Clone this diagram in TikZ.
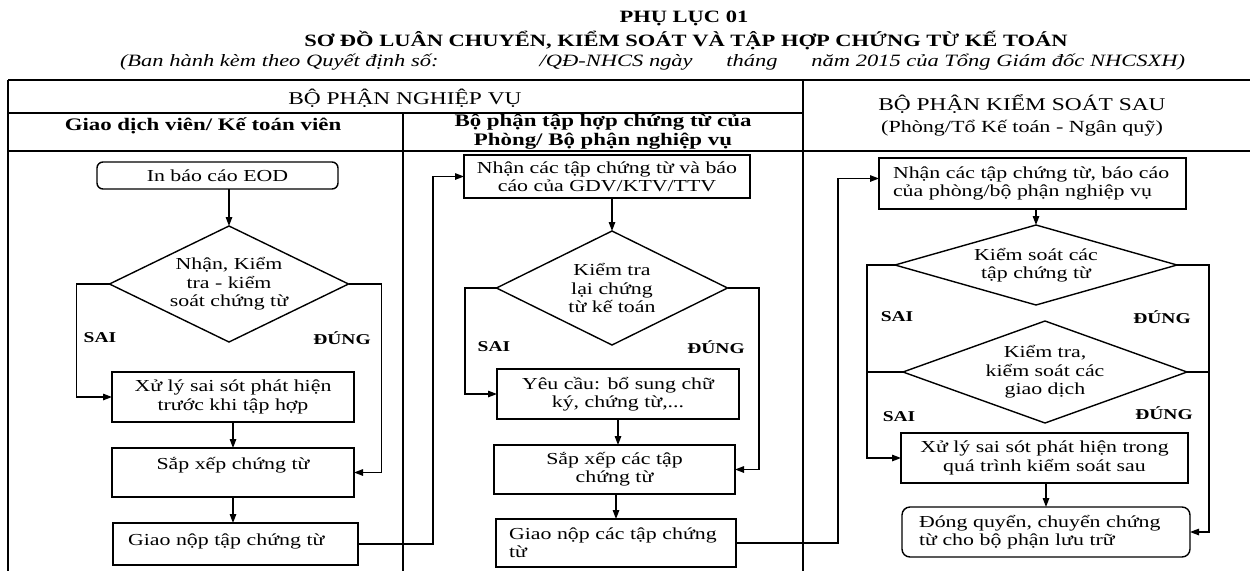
\documentclass[tikz,border=0pt]{standalone}
\usepackage{fontspec}
\setmainfont{Liberation Serif}[FakeStretch=1.3]
\usetikzlibrary{shapes.geometric,arrows.meta,calc}
\newcommand\fbody{\fontsize{16.8pt}{18.3pt}\selectfont}
\newcommand\flab{\fontsize{15pt}{18pt}\selectfont\bfseries}
\newcommand\ftitle{\fontsize{17.3pt}{20pt}\selectfont\bfseries}
\newcommand\fital{\fontsize{17.3pt}{20pt}\selectfont\itshape}
\newcommand\fhead{\fontsize{18pt}{22pt}\selectfont}
\newcommand\fcol{\fontsize{17.6pt}{18.5pt}\selectfont\bfseries}
\begin{document}
\begin{tikzpicture}[x=1pt,y=-1pt,
  every node/.style={inner sep=0pt, outer sep=0pt},
  tline/.style={line width=1.3pt},
  box/.style={draw, line width=1.4pt, align=center, font=\fbody},
  lbox/.style={draw, line width=1.4pt, align=left, font=\fbody},
  dia/.style={draw, diamond, line width=1.4pt, align=center, font=\fbody, inner sep=0pt},
  lab/.style={font=\flab},
  conn/.style={line width=1.3pt},
  arr/.style={line width=1.3pt, -{Triangle[length=9pt,width=6.5pt]}}]
\useasboundingbox (0,0) rectangle (1250,571);
% title
\node[font=\ftitle] (t1) at (684,18) {PHỤ LỤC 01};
\node[font=\ftitle] (t2) at (686,40) {SƠ ĐỒ LUÂN CHUYỂN, KIỂM SOÁT VÀ TẬP HỢP CHỨNG TỪ KẾ TOÁN};
\node[font=\fital, anchor=west] (t3) at (120,62) {\makebox[1065pt][s]{(Ban hành kèm theo Quyết định số:\hspace{0pt plus 3fill}/QĐ-NHCS ngày\hspace{0pt plus 1fill}tháng\hspace{0pt plus 1fill}năm 2015 của Tổng Giám đốc NHCSXH)}};
% table frame
\draw[tline] (8,80) -- (1250,80);
\draw[tline] (8,80) -- (8,571);
\draw[tline] (8,113) -- (803,113);
\draw[tline] (8,151) -- (1250,151);
\draw[tline] (403,113) -- (403,571);
\draw[tline] (803,80) -- (803,571);
% headers
\node[font=\fhead] (h1) at (405,98) {BỘ PHẬN NGHIỆP VỤ};
\node[font=\fcol] (h2) at (203,126) {Giao dịch viên/ Kế toán viên};
\node[font=\fcol, align=center] (h3) at (603,132.5) {Bộ phận tập hợp chứng từ của\\\underline{Phòng/ Bộ phận nghiệp vụ}};
\node[font=\fhead, align=center] (h4) at (1022,115) {BỘ PHẬN KIỂM SOÁT SAU\\{\fontsize{17pt}{22pt}\selectfont(Phòng/Tổ Kế toán - Ngân quỹ)}};
% column 1
\node[box, rounded corners=6pt, minimum width=241pt, minimum height=27pt] (eod) at (217.5,175.5) {In báo cáo EOD};
\node[dia, minimum width=239pt, minimum height=116pt, shape aspect=2.06] (d1) at (229,284) {Nhận, Kiểm\\tra - kiểm\\soát chứng từ};
\node[box, minimum width=242pt, minimum height=50pt] (x1) at (233,397) {Xử lý sai sót phát hiện\\trước khi tập hợp};
\node[box, minimum width=242pt, minimum height=49pt] (s1) at (233,472.5) {Sắp xếp chứng từ\\\mbox{}};
\node[lbox, minimum width=245pt, minimum height=42pt, inner xsep=15pt, text width=215pt] (g1) at (235.5,544) {\raisebox{8pt}{Giao nộp tập chứng từ}};
\node[lab] (sai1) at (100,338) {SAI};
\node[lab] (dung1) at (342,338) {ĐÚNG};
\draw[arr] (d1.north |- eod.south) -- (d1.north);
\draw[arr] (d1.west) -- ++(-33,0) |- (x1.west);
\draw[arr] (d1.east) -- ++(33,0) |- (s1.east);
\draw[arr] (x1.south) -- (x1.south |- s1.north);
\draw[arr] (s1.south) -- (s1.south |- g1.north);
% column 2
\node[box, minimum width=286pt, minimum height=43pt] (n2) at (607,176.5) {Nhận các tập chứng từ và báo\\cáo của GDV/KTV/TTV};
\node[dia, minimum width=231pt, minimum height=114pt, shape aspect=2.03] (d2) at (612,288) {Kiểm tra\\lại chứng\\từ kế toán};
\node[box, minimum width=242pt, minimum height=50pt] (y2) at (618,394) {Yêu cầu: bổ sung chữ\\ký, chứng từ,...};
\node[box, minimum width=241pt, minimum height=49pt] (s2) at (614.5,469.5) {Sắp xếp các tập\\chứng từ};
\node[lbox, minimum width=240pt, minimum height=48pt, inner xsep=13pt, text width=214pt] (g2) at (616,543) {Giao nộp các tập chứng\\từ};
\node[lab] (sai2) at (494,347) {SAI};
\node[lab] (dung2) at (716,347) {ĐÚNG};
\draw[arr] (g1.east) -- ++(75,0) |- (n2.west);
\draw[arr] (d2.north |- n2.south) -- (d2.north);
\draw[arr] (d2.west) -- ++(-31.5,0) |- (y2.west);
\draw[arr] (d2.east) -- ++(31.5,0) |- (s2.east);
\draw[arr] (y2.south) -- (y2.south |- s2.north);
\draw[arr] (g2.north |- s2.south) -- (g2.north);
% column 3
\node[lbox, minimum width=307pt, minimum height=51pt, inner xsep=14pt, text width=279pt] (n3) at (1032.5,183.5) {Nhận các tập chứng từ, báo cáo\\của phòng/bộ phận nghiệp vụ};
\node[dia, minimum width=282pt, minimum height=80pt, shape aspect=3.52] (d3) at (1036,265) {Kiểm soát các\\tập chứng từ};
\node[dia, minimum width=284pt, minimum height=102pt, shape aspect=2.78] (d4) at (1045,372) {Kiểm tra,\\kiểm soát các\\giao dịch};
\node[box, minimum width=287pt, minimum height=50pt] (x3) at (1044.5,458) {Xử lý sai sót phát hiện trong\\quá trình kiểm soát sau};
\node[lbox, rounded corners=8pt, minimum width=288pt, minimum height=50pt, inner xsep=17pt, text width=254pt] (f3) at (1046,532) {Đóng quyển, chuyển chứng\\từ cho bộ phận lưu trữ};
\node[lab] (sai3) at (897,317) {SAI};
\node[lab] (dung3) at (1162,317) {ĐÚNG};
\node[lab] (sai4) at (899,417) {SAI};
\node[lab] (dung4) at (1164,413) {ĐÚNG};
\coordinate (sL) at (867,265);
\coordinate (sR) at (1209,265);
\draw[arr] (g2.east) -- ++(102,0) |- ([yshift=5pt]n3.west);
\draw[arr] (d3.north |- n3.south) -- (d3.north);
\draw[arr] (d3.west) -- (sL) |- (x3.west);
\draw[arr] (d3.east) -- (sR) |- (f3.east);
\draw[conn] (d4.west) -- (d4.west -| sL);
\draw[conn] (d4.east) -- (d4.east -| sR);
\draw[arr] (f3.north |- x3.south) -- (f3.north);
\end{tikzpicture}
\end{document}
